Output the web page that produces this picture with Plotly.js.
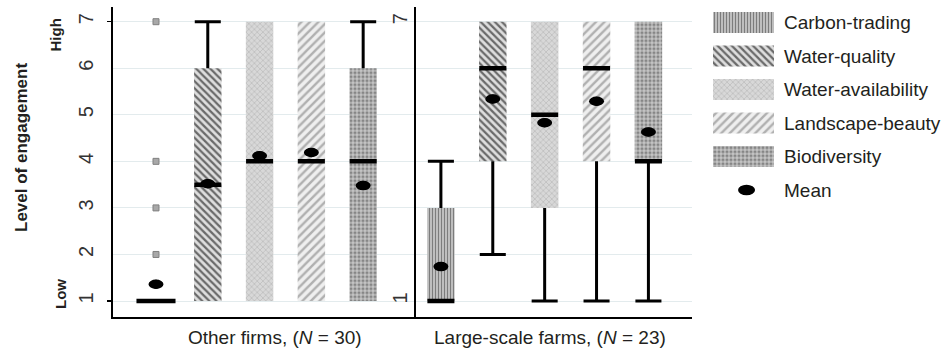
<!DOCTYPE html>
<html>
<head>
<meta charset="utf-8">
<script src="https://cdn.plot.ly/plotly-3.0.1.min.js"></script>
<style>
html, body { margin: 0; padding: 0; background: #ffffff; }
#chart { width: 952px; height: 352px; }
</style>
</head>
<body>
<div id="chart"></div>
<script>
// ---------------- DATA ----------------
const services = ['Carbon-trading', 'Water-quality', 'Water-availability', 'Landscape-beauty', 'Biodiversity'];
const groupTitles = ['Other firms, (<i>N</i> = 30)', 'Large-scale farms, (<i>N</i> = 23)'];
const yTickValues = [1, 2, 3, 4, 5, 6, 7];
const yEndLabels = ['Low', 'High'];
const yAxisTitle = 'Level of engagement';
const meanLabel = 'Mean';

// Other firms (N = 30)
const otherQ1 = [1, 1, 1, 1, 1];
const otherMedian = [1, 3.5, 4, 4, 4];
const otherQ3 = [1, 6, 7, 7, 6];
const otherLowerWhisker = [1, 1, 1, 1, 1];
const otherUpperWhisker = [1, 7, 7, 7, 7];
const otherMean = [1.36, 3.52, 4.12, 4.19, 3.48];
const otherOutliers = [[2, 3, 4, 7], [], [], [], []];

// Large-scale farms (N = 23)
const farmQ1 = [1, 4, 3, 4, 4];
const farmMedian = [1, 6, 5, 6, 4];
const farmQ3 = [3, 7, 7, 7, 7];
const farmLowerWhisker = [1, 2, 1, 1, 1];
const farmUpperWhisker = [4, 7, 7, 7, 7];
const farmMean = [1.74, 5.34, 4.83, 5.29, 4.63];
const farmOutliers = [[], [], [], [], []];

// ---------------- STYLE ----------------
const W = 952, H = 352;
const fx = v => v / W;
const fy = v => 1 - v / H;
const FONT = 'Liberation Sans, Arial, Helvetica, sans-serif';
const TEXT = '#231f20';

const patternStyles = [
  { shape: '|', bgcolor: '#d4d4d4', fgcolor: '#7c7c7c', size: 3, solidity: 0.5 },
  { shape: '\\', bgcolor: '#dedede', fgcolor: '#6a6a6a', size: 5, solidity: 0.45 },
  { shape: 'x', bgcolor: '#d8d8d8', fgcolor: '#b8b8b8', size: 4, solidity: 0.3 },
  { shape: '/', bgcolor: '#efefef', fgcolor: '#b0b0b0', size: 6, solidity: 0.4 },
  { shape: '.', bgcolor: '#c6c6c6', fgcolor: '#868686', size: 4, solidity: 0.5 }
];

const BOX_W = 0.53;
const yRange = [0.663, 7.322];

const panels = [
  { xa: 'x', ya: 'y', q1: otherQ1, med: otherMedian, q3: otherQ3, lo: otherLowerWhisker, hi: otherUpperWhisker, mean: otherMean, out: otherOutliers },
  { xa: 'x2', ya: 'y2', q1: farmQ1, med: farmMedian, q3: farmQ3, lo: farmLowerWhisker, hi: farmUpperWhisker, mean: farmMean, out: farmOutliers }
];

const traces = [];
const shapes = [];

panels.forEach(p => {
  const xs = services.map((_, i) => i);

  // box bodies
  services.forEach((s, i) => {
    const st = patternStyles[i];
    traces.push({
      type: 'bar', name: s, x: [i], y: [p.q3[i] - p.q1[i]], base: [p.q1[i]],
      width: BOX_W, xaxis: p.xa, yaxis: p.ya, hoverinfo: 'skip', showlegend: false,
      marker: { color: st.bgcolor, line: { width: 0 }, pattern: { shape: st.shape, bgcolor: st.bgcolor, fgcolor: st.fgcolor, size: st.size, solidity: st.solidity, fillmode: 'replace' } }
    });
  });

  // whiskers
  const wx = [], wy = [], cx = [], cy = [];
  xs.forEach(i => {
    if (p.hi[i] > p.q3[i]) { wx.push(i, i, null); wy.push(p.q3[i], p.hi[i], null); cx.push(i); cy.push(p.hi[i]); }
    if (p.lo[i] < p.q1[i]) { wx.push(i, i, null); wy.push(p.q1[i], p.lo[i], null); cx.push(i); cy.push(p.lo[i]); }
  });
  traces.push({ type: 'scatter', mode: 'lines', x: wx, y: wy, xaxis: p.xa, yaxis: p.ya, line: { color: '#000', width: 3 }, hoverinfo: 'skip', showlegend: false });
  traces.push({ type: 'scatter', mode: 'markers', x: cx, y: cy, xaxis: p.xa, yaxis: p.ya, marker: { symbol: 'line-ew', size: 18.6, color: '#000', opacity: 1, line: { color: '#000', width: 3 } }, hoverinfo: 'skip', showlegend: false });

  // outliers
  const ox = [], oy = [];
  p.out.forEach((arr, i) => arr.forEach(v => { ox.push(i); oy.push(v); }));
  traces.push({ type: 'scatter', mode: 'markers', x: ox, y: oy, xaxis: p.xa, yaxis: p.ya, marker: { symbol: 'square', size: 6, color: '#a8a8a8', opacity: 1, line: { color: '#808080', width: 1 } }, hoverinfo: 'skip', showlegend: false });

  // medians
  traces.push({ type: 'scatter', mode: 'markers', x: xs, y: p.med, xaxis: p.xa, yaxis: p.ya,
    marker: { symbol: 'line-ew', color: '#000', opacity: 1, size: xs.map(i => (p.q1[i] === p.q3[i] ? 27.9 : 19.3)), line: { color: '#000', width: 4.5 } }, hoverinfo: 'skip', showlegend: false });

  // means
  traces.push({ type: 'scatter', mode: 'markers', name: meanLabel, x: xs, y: p.mean, xaxis: p.xa, yaxis: p.ya, marker: { symbol: 'circle', size: 9, color: '#000', opacity: 1 }, showlegend: false });
  xs.forEach(i => {
    shapes.push({ type: 'circle', xref: p.xa, yref: p.ya, xsizemode: 'pixel', ysizemode: 'pixel', xanchor: i, yanchor: p.mean[i], x0: -7.5, x1: 7.5, y0: -4.7, y1: 4.7, fillcolor: '#000', line: { width: 0 }, layer: 'above' });
  });
});

// legend built as a small subplot
const legendLabels = services.concat([meanLabel]);
services.forEach((s, i) => {
  const st = patternStyles[i];
  traces.push({
    type: 'bar', orientation: 'h', x: [1], y: [s], width: 0.63, xaxis: 'x3', yaxis: 'y3', hoverinfo: 'skip', showlegend: false,
    marker: { color: st.bgcolor, line: { width: 0 }, pattern: { shape: st.shape, bgcolor: st.bgcolor, fgcolor: st.fgcolor, size: st.size, solidity: st.solidity, fillmode: 'replace' } }
  });
});
traces.push({ type: 'scatter', mode: 'markers', x: [0.55], y: [meanLabel], xaxis: 'x3', yaxis: 'y3', marker: { symbol: 'circle', size: 9, color: '#000', opacity: 1 }, hoverinfo: 'skip', showlegend: false });
shapes.push({ type: 'circle', xref: 'x3', yref: 'y3', xsizemode: 'pixel', ysizemode: 'pixel', xanchor: 0.55, yanchor: legendLabels.indexOf(meanLabel), x0: -8.5, x1: 8.5, y0: -5.3, y1: 5.3, fillcolor: '#000', line: { width: 0 }, layer: 'above' });

const yDomain = [fy(316.7), fy(6.7)];
const gridColor = '#e3ebed';

const layout = {
  width: W, height: H,
  margin: { l: 0, r: 0, t: 0, b: 0 },
  paper_bgcolor: '#ffffff', plot_bgcolor: 'rgba(0,0,0,0)',
  font: { family: FONT, color: TEXT },
  showlegend: false,
  barmode: 'overlay',
  xaxis: { domain: [fx(113), fx(416)], range: [-0.83, 5.02], showticklabels: false, ticks: '', showgrid: false, zeroline: false,
           showline: true, linecolor: '#000', linewidth: 2.5, anchor: 'y', fixedrange: true },
  xaxis2: { domain: [fx(416), fx(692)], range: [-0.48, 4.84], showticklabels: false, ticks: '', showgrid: false, zeroline: false,
            showline: true, linecolor: '#000', linewidth: 2.5, anchor: 'y2', fixedrange: true },
  yaxis: { domain: yDomain, range: yRange, anchor: 'x', tickmode: 'array', tickvals: yTickValues, ticktext: yTickValues.map(String),
           tickangle: -90, tickfont: { size: 20, color: '#333333', family: FONT }, ticks: '', ticklabelstandoff: 10,
           minor: { tickmode: 'array', tickvals: [yTickValues[0], yTickValues[yTickValues.length - 1]], ticks: 'outside', ticklen: 4, tickwidth: 1.2, tickcolor: '#000', showgrid: false },
           showgrid: true, gridcolor: gridColor, gridwidth: 1, zeroline: false, showline: true, linecolor: '#000', linewidth: 2.5, fixedrange: true },
  yaxis2: { domain: yDomain, range: yRange, anchor: 'x2', tickmode: 'array', tickvals: yTickValues,
            ticktext: yTickValues.map((v, i) => (i === 0 || i === yTickValues.length - 1) ? String(v) : ''),
            tickangle: -90, tickfont: { size: 20, color: '#333333', family: FONT }, ticks: '', ticklabelstandoff: -1,
            showgrid: true, gridcolor: gridColor, gridwidth: 1, zeroline: false, showline: true, linecolor: '#000', linewidth: 2.5, fixedrange: true },
  xaxis3: { domain: [fx(713), fx(774)], range: [0, 1], visible: false, anchor: 'y3', fixedrange: true },
  yaxis3: { domain: [fy(206.75), fy(5.75)], type: 'category', categoryorder: 'array', categoryarray: legendLabels,
            range: [legendLabels.length - 0.5, -0.5], anchor: 'x3', side: 'right', ticks: '', ticklabelstandoff: 9,
            showgrid: false, zeroline: false, showline: false, tickfont: { size: 19, color: TEXT, family: FONT }, fixedrange: true },
  shapes: shapes,
  annotations: [
    { xref: 'paper', yref: 'paper', x: fx(21), y: fy(148), text: '<b>' + yAxisTitle + '</b>', textangle: -90, showarrow: false,
      xanchor: 'center', yanchor: 'middle', font: { size: 17, color: TEXT, family: FONT } },
    { xref: 'paper', yref: 'paper', x: fx(55), y: fy(35.5), text: '<b>' + yEndLabels[1] + '</b>', textangle: -90, showarrow: false,
      xanchor: 'center', yanchor: 'middle', font: { size: 15, color: TEXT, family: FONT } },
    { xref: 'paper', yref: 'paper', x: fx(60), y: fy(294), text: '<b>' + yEndLabels[0] + '</b>', textangle: -90, showarrow: false,
      xanchor: 'center', yanchor: 'middle', font: { size: 15, color: TEXT, family: FONT } },
    { xref: 'paper', yref: 'paper', x: fx(275), y: fy(337), text: groupTitles[0], showarrow: false,
      xanchor: 'center', yanchor: 'middle', font: { size: 19, color: TEXT, family: FONT } },
    { xref: 'paper', yref: 'paper', x: fx(549.5), y: fy(337), text: groupTitles[1], showarrow: false,
      xanchor: 'center', yanchor: 'middle', font: { size: 19, color: TEXT, family: FONT } }
  ]
};

Plotly.newPlot('chart', traces, layout, { displayModeBar: false, staticPlot: true });
</script>
</body>
</html>
